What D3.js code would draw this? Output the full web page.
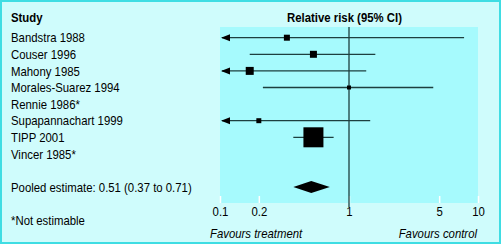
<!DOCTYPE html>
<html>
<head>
<meta charset="utf-8">
<script src="https://cdn.jsdelivr.net/npm/d3@7"></script>
<style>
  body { margin: 0; background: #fff; }
  text { font-family: "Liberation Sans", Arial, Helvetica, sans-serif; font-size: 13px; fill: #000; }
</style>
</head>
<body>
<svg width="502" height="246"></svg>
<script>
// studies and their relative risks
const studies = ["Bandstra 1988", "Couser 1996", "Mahony 1985", "Morales-Suarez 1994",
  "Rennie 1986*", "Supapannachart 1999", "TIPP 2001", "Vincer 1985*"];
const rr = [0.33, 0.53, 0.17, 1.0, null, 0.2, 0.53, null];
const lower = [0.03, 0.17, 0.02, 0.215, null, 0.03, 0.37, null];
const upper = [7.8, 1.6, 1.36, 4.5, null, 1.46, 0.76, null];
const weights = [6.1, 8.3, 10.8, 2.7, null, 4.2, 67.8, null];
const pooled = [0.51, 0.37, 0.71];
const tickValues = [0.1, 0.2, 1, 5, 10];

const svg = d3.select("svg");
const width = +svg.attr("width");
const height = +svg.attr("height");
const squeeze = 0.875; // the original type is a narrow helvetica

// background panel
svg.append("rect")
  .attr("x", 1).attr("y", 1)
  .attr("width", width - 3).attr("height", height - 4)
  .attr("fill", "#cffcfc")
  .attr("stroke", "#3fdde3")
  .attr("stroke-width", 2);

const x = d3.scaleLog().domain([0.1, 10]).range([220, 478]);
const y = d3.scaleLinear().domain([0, 9]).range([37.7, 187.1]);
const size = d3.scaleSqrt().domain([0, d3.max(weights)]).range([0, 20]);

const plotTop = 27, plotBottom = 203;

svg.append("rect")
  .attr("x", x.range()[0]).attr("y", plotTop)
  .attr("width", x.range()[1] - x.range()[0]).attr("height", plotBottom - plotTop)
  .attr("fill", "#a6fafd");

function label(tx, ty, str) {
  return svg.append("text")
    .attr("transform", `translate(${tx},${ty}) scale(${squeeze},1)`)
    .attr("dy", "0.36em")
    .text(str);
}

// axis: little white ticks inside the plot plus labels below
const axis = svg.append("g")
  .attr("transform", `translate(0,${plotBottom})`)
  .call(d3.axisBottom(x).tickValues(tickValues).tickFormat(d => d)
    .tickSizeInner(-7).tickSizeOuter(0).tickPadding(4));
axis.select(".domain").remove();
axis.selectAll(".tick line").attr("stroke", "#fff").attr("stroke-width", 1.5);
axis.selectAll(".tick text")
  .attr("font-size", 13).attr("font-family", null).attr("fill", "#000")
  .attr("transform", `scale(${squeeze},1)`);

// line of no effect
svg.append("line")
  .attr("x1", x(1)).attr("x2", x(1))
  .attr("y1", plotTop).attr("y2", 207)
  .attr("stroke", "#1d3f3f").attr("stroke-width", 1.3);

// headings
label(11, 17, "Study").attr("font-weight", "bold");
label(287, 17, "Relative risk (95% CI)").attr("font-weight", "bold");

// study labels
studies.forEach((s, i) => label(11, y(i), s));

const rows = studies.map((s, i) => ({ i, rr: rr[i], lo: lower[i], hi: upper[i], w: weights[i] }))
  .filter(d => d.rr !== null);

const xmin = x.domain()[0];

// confidence intervals
svg.selectAll(".ci").data(rows).join("line")
  .attr("class", "ci")
  .attr("x1", d => x(Math.max(d.lo, xmin)) + (d.lo < xmin ? 2 : 0))
  .attr("x2", d => x(d.hi))
  .attr("y1", d => y(d.i)).attr("y2", d => y(d.i))
  .attr("stroke", "#1d3f3f").attr("stroke-width", 1.3);

// arrows where the interval runs off the scale
svg.selectAll(".arrow").data(rows.filter(d => d.lo < xmin)).join("path")
  .attr("class", "arrow")
  .attr("d", d => {
    const x0 = x(xmin) + 1, yy = y(d.i);
    return `M${x0},${yy}L${x0 + 9},${yy - 3.5}L${x0 + 9},${yy + 3.5}Z`;
  })
  .attr("fill", "#000");

// point estimates sized by weight
svg.selectAll(".box").data(rows).join("rect")
  .attr("class", "box")
  .attr("x", d => x(d.rr) - size(d.w) / 2)
  .attr("y", d => y(d.i) - size(d.w) / 2)
  .attr("width", d => size(d.w)).attr("height", d => size(d.w))
  .attr("fill", "#000");

// pooled estimate
const py = y(9);
svg.append("path")
  .attr("d", `M${x(pooled[1])},${py}L${x(pooled[0])},${py - 6}L${x(pooled[2])},${py}L${x(pooled[0])},${py + 6}Z`)
  .attr("fill", "#000");
label(11, py, `Pooled estimate: ${pooled[0]} (${pooled[1]} to ${pooled[2]})`);

label(11, 220, "*Not estimable");

label(210, 233.5, "Favours treatment").attr("font-style", "italic");
label(477, 233.5, "Favours control").attr("font-style", "italic").attr("text-anchor", "end");
</script>
</body>
</html>
